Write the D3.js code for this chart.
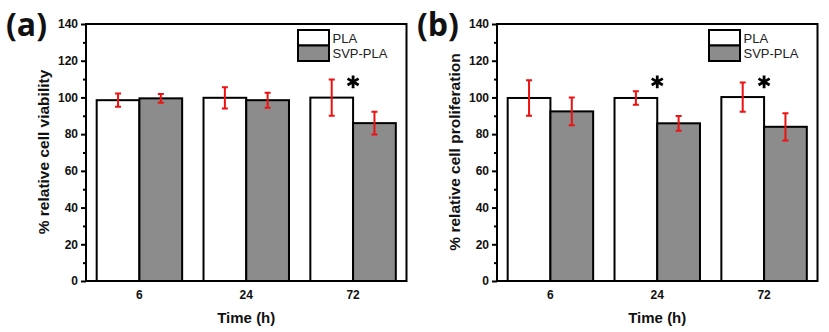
<!DOCTYPE html>
<html>
  <head>
    <script src="https://cdnjs.cloudflare.com/ajax/libs/d3/7.8.5/d3.min.js"></script>
    <style>
      body { margin: 0; background: #fff; }
      svg { font-family: "Liberation Sans", Arial, sans-serif; }
      .tick text { font-size: 12px; font-weight: bold; fill: #111; }
      .tick line { stroke: #000; stroke-width: 2px; }
      .frame { fill: none; stroke: #000; stroke-width: 2px; }
      .bar { stroke: #000; stroke-width: 2px; }
      .err { stroke: #ee1111; stroke-width: 2px; fill: none; }
      .star { stroke: #000; stroke-width: 2.8px; fill: none; }
    </style>
  </head>
  <body>
    <svg width="829" height="332"></svg>
    <script>
      // data
      var times = ["6", "24", "72"];
      var groups = ["PLA", "SVP-PLA"];
      var groupColors = ["#ffffff", "#8c8c8c"];
      var yTicks = [0, 20, 40, 60, 80, 100, 120, 140];

      var viabilityPLA = [98.5, 99.8, 99.9];
      var viabilityPLAErr = [3.6, 5.8, 9.9];
      var viabilitySVP = [99.5, 98.5, 86];
      var viabilitySVPErr = [2.4, 4.1, 6.2];
      var viabilityStar = [false, false, true];

      var prolifPLA = [99.7, 99.7, 100.2];
      var prolifPLAErr = [9.7, 3.7, 8];
      var prolifSVP = [92.4, 85.9, 84];
      var prolifSVPErr = [7.5, 4, 7.4];
      var prolifStar = [false, true, true];

      var starLevel = 108.5;

      var svg = d3.select("svg");

      function drawPanel(left, label, yTitle, pla, plaErr, svp, svpErr, stars) {
        var top = 24, bottom = 281, width = 320.5;
        var g = svg.append("g");

        var x = d3.scaleBand().domain(times).range([left, left + width])
          .paddingInner(0.2).paddingOuter(0.1);
        var xs = d3.scaleBand().domain(groups).range([0, x.bandwidth()]);
        var y = d3.scaleLinear().domain([0, 140]).range([bottom, top]);

        var rows = [];
        times.forEach(function (t, i) {
          rows.push({ t: t, s: groups[0], v: pla[i], e: plaErr[i], c: groupColors[0] });
          rows.push({ t: t, s: groups[1], v: svp[i], e: svpErr[i], c: groupColors[1] });
        });

        g.selectAll("rect.bar").data(rows).enter().append("rect")
          .attr("class", "bar")
          .attr("x", d => x(d.t) + xs(d.s))
          .attr("y", d => y(d.v))
          .attr("width", xs.bandwidth())
          .attr("height", d => y(0) - y(d.v))
          .style("fill", d => d.c);

        // error bars
        var cap = 3;
        var eb = g.selectAll("g.eb").data(rows).enter().append("g");
        eb.append("path").attr("class", "err").attr("d", d => {
          var cx = x(d.t) + xs(d.s) + xs.bandwidth() / 2;
          var y1 = y(d.v + d.e), y2 = y(d.v - d.e);
          return "M" + cx + "," + y1 + "V" + y2 +
            "M" + (cx - cap) + "," + y1 + "H" + (cx + cap) +
            "M" + (cx - cap) + "," + y2 + "H" + (cx + cap);
        });

        // significance marks
        g.selectAll("path.star").data(times.filter((t, i) => stars[i])).enter()
          .append("path")
          .attr("class", "star")
          .attr("transform", d => "translate(" + (x(d) + x.bandwidth() / 2) + "," + y(starLevel) + ")")
          .attr("d", d3.symbol().type(d3.symbolAsterisk).size(115));

        // axes
        g.append("g").attr("transform", "translate(" + left + ",0)")
          .call(d3.axisLeft(y).tickValues(d3.range(10, 140, 20)).tickSize(3).tickFormat(""))
          .call(a => a.select(".domain").remove());
        g.append("g").attr("transform", "translate(" + left + ",0)")
          .call(d3.axisLeft(y).tickValues(yTicks).tickSize(5).tickPadding(3))
          .call(a => a.select(".domain").remove());
        g.append("g").attr("transform", "translate(0," + bottom + ")")
          .call(d3.axisBottom(x).tickSize(0).tickPadding(9))
          .call(a => a.select(".domain").remove());

        g.append("rect").attr("class", "frame")
          .attr("x", left).attr("y", top)
          .attr("width", width).attr("height", bottom - top);

        // legend
        var lx = left + width - 108.5, ly = 30, sh = 15.5;
        groups.forEach(function (s, i) {
          g.append("rect").attr("class", "bar")
            .attr("x", lx).attr("y", ly + i * sh)
            .attr("width", 31).attr("height", sh)
            .style("fill", groupColors[i]);
          g.append("text")
            .attr("x", lx + 34.5).attr("y", ly + i * sh + sh / 2 + 5)
            .style("font-size", "13px").style("fill", "#222")
            .text(s);
        });

        // titles
        g.append("text")
          .attr("x", left + width / 2).attr("y", 323)
          .attr("text-anchor", "middle")
          .style("font-size", "15px").style("font-weight", "bold").style("fill", "#111")
          .text("Time (h)");
        g.append("text")
          .attr("transform", "translate(" + (left - 37) + "," + 152 + ") rotate(-90)")
          .attr("text-anchor", "middle")
          .style("font-size", "15.5px").style("font-weight", "bold").style("fill", "#111")
          .text(yTitle);
        g.append("text")
          .attr("x", left - 80).attr("y", 36)
          .style("font-family", "'Open Sans', sans-serif")
          .style("font-size", "32px").style("font-weight", "bold").style("fill", "#111")
          .text(label);
      }

      drawPanel(86, "(a)", "% relative cell viability",
        viabilityPLA, viabilityPLAErr, viabilitySVP, viabilitySVPErr, viabilityStar);
      drawPanel(497, "(b)", "% relative cell proliferation",
        prolifPLA, prolifPLAErr, prolifSVP, prolifSVPErr, prolifStar);
    </script>
  </body>
</html>
